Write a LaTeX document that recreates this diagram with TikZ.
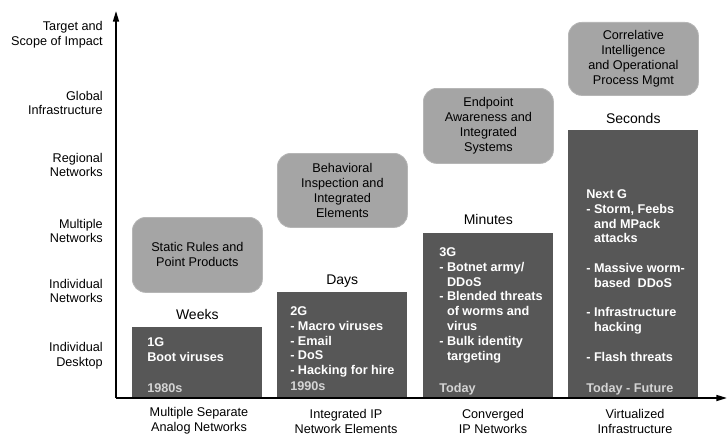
\documentclass[tikz,border=0pt]{standalone}
\usepackage{fontspec}
\setmainfont{Liberation Sans}
\usetikzlibrary{arrows.meta, positioning, calc}
\definecolor{bargray}{RGB}{87, 87, 87}
\definecolor{boxgray}{RGB}{165, 165, 165}
\definecolor{boxedge}{RGB}{182, 182, 182}
\definecolor{yeargray}{RGB}{212, 212, 212}
\tikzset{
    bar/.style={
        fill=bargray,
        draw=none,
        minimum width=97.5pt,
        minimum height=#1,
        inner sep=0pt,
        anchor=south west,
    },
    defbox/.style={
        fill=boxgray,
        draw=boxedge,
        line width=0.6pt,
        rounded corners=10pt,
        minimum width=97.5pt,
        minimum height=#1,
        inner sep=0pt,
        anchor=north west,
        font=\fontsize{9.5}{11.2}\selectfont,
        align=center,
    },
    threat/.style={
        font=\fontsize{9.5}{11.1}\selectfont\bfseries,
        text=white,
        align=left,
        inner sep=0pt,
        anchor=north west,
    },
    yearlabel/.style={
        font=\fontsize{9.5}{11.1}\selectfont\bfseries,
        text=yeargray,
        inner sep=0pt,
        anchor=base west,
    },
    timelabel/.style={
        font=\fontsize{10.5}{12}\selectfont,
        inner sep=0pt,
        anchor=base,
    },
    ylabel/.style={
        font=\fontsize{9.5}{11.2}\selectfont,
        align=right,
        inner sep=0pt,
        anchor=east,
    },
    xlabel/.style={
        font=\fontsize{9.5}{11.2}\selectfont,
        align=center,
        inner sep=0pt,
    },
    axisline/.style={
        line width=1.2pt,
        -{Triangle[length=8pt, width=4.5pt]},
    },
}

\begin{document}
\begin{tikzpicture}[x=0.75pt, y=-0.75pt]
\useasboundingbox (0,0) rectangle (727,435);

% ===== Bars =====
\node[bar=53.25pt] (bar1) at (132,398) {};
\node[bar=79.5pt] (bar2) at (277,398) {};
\node[bar=123.75pt] (bar3) at (423,398) {};
\node[bar=201pt] (bar4) at (568,398) {};

% ===== Threats =====
\node[threat] (thr1) at ($(bar1.north west)+(15,11)$) {1G\\Boot viruses};
\node[yearlabel] (yr1) at ($(bar1.south west)+(15,-6)$) {1980s};

\node[threat] (thr2) at ($(bar2.north west)+(13,15)$) {2G\\- Macro viruses\\- Email\\- DoS\\- Hacking for hire};
\node[yearlabel] (yr2) at ($(bar2.south west)+(13,-8)$) {1990s};

\node[threat] (thr3) at ($(bar3.north west)+(16,15)$) {3G\\- Botnet army/\\\hphantom{- }DDoS\\- Blended threats\\\hphantom{- }of worms and\\\hphantom{- }virus\\- Bulk identity\\\hphantom{- }targeting};
\node[yearlabel] (yr3) at ($(bar3.south west)+(16,-6)$) {Today};

\node[threat] (thr4) at ($(bar4.north west)+(18,60)$) {Next G\\- Storm, Feebs\\\hphantom{- }and MPack\\\hphantom{- }attacks\\[11.1pt]- Massive worm-\\\hphantom{- }based\ \ DDoS\\[11.1pt]- Infrastructure\\\hphantom{- }hacking\\[11.1pt]- Flash threats};
\node[yearlabel] (yr4) at ($(bar4.south west)+(18,-6)$) {Today - Future};

% ===== Response times =====
\node[timelabel] (time1) at ($(bar1.north)+(0,-7)$) {Weeks};
\node[timelabel] (time2) at ($(bar2.north)+(0,-7)$) {Days};
\node[timelabel] (time3) at ($(bar3.north)+(0,-8)$) {Minutes};
\node[timelabel] (time4) at ($(bar4.north)+(0,-6)$) {Seconds};

% ===== Defenses =====
\node[defbox=56.25pt] (def1) at (132,217) {Static Rules and\\Point Products};
\node[defbox=55.5pt] (def2) at (277,153) {Behavioral\\Inspection and\\Integrated\\Elements};
\node[defbox=56.25pt] (def3) at (423,88) {Endpoint\\Awareness and\\Integrated\\Systems};
\node[defbox=54.75pt] (def4) at (568,22) {Correlative\\Intelligence\\and Operational\\Process Mgmt};

% ===== Axes =====
\coordinate (origin) at (116,398);
\coordinate (ytip) at (116,11);
\coordinate (xtip) at (727,398);
\draw[axisline] (origin) -- (ytip);
\draw[axisline] (origin) -- (xtip);

% ===== Scope of impact =====
\node[ylabel] (scope) at (103,35) {Target and\\Scope of Impact};
\node[ylabel] (glob) at (103,103) {Global\\Infrastructure};
\node[ylabel] (regi) at (103,165) {Regional\\Networks};
\node[ylabel] (mult) at (103,231) {Multiple\\Networks};
\node[ylabel] (indn) at (103,291) {Individual\\Networks};
\node[ylabel] (indd) at (103,356) {Individual\\Desktop};

% ===== Network eras =====
\node[xlabel] (era1) at (199,421) {Multiple Separate\\Analog Networks};
\node[xlabel] (era2) at (346,421) {Integrated IP\\Network Elements};
\node[xlabel] (era3) at (493,421) {Converged\\IP Networks};
\node[xlabel] (era4) at (635,421) {Virtualized\\Infrastructure};

\end{tikzpicture}
\end{document}
